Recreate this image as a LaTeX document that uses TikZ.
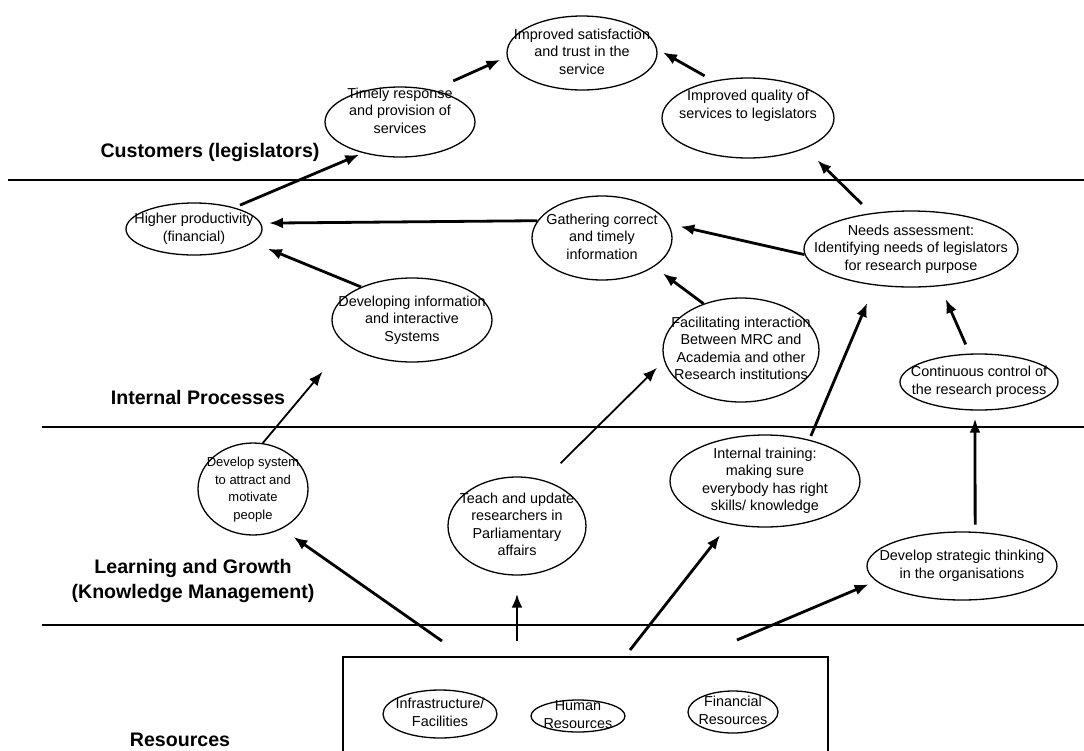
\documentclass[tikz,border=0pt]{standalone}
\usepackage{fontspec}
\setmainfont{Liberation Sans}
\usepackage{tikz}
\usetikzlibrary{shapes.geometric, arrows.meta}

\newcommand{\elltext}[2][-1.75pt]{\makebox[0pt]{\raisebox{#1}[0pt][0pt]{\begin{tabular}{@{}c@{}}#2\end{tabular}}}}

\begin{document}
\begin{tikzpicture}[
    x=0.5pt, y=-0.5pt,
    font=\fontsize{7.2}{8.75}\selectfont,
    goal/.style={ellipse, draw=black, line width=0.65pt, inner sep=0pt},
    lane/.style={font=\fontsize{9.8}{12.5}\selectfont\bfseries, align=center},
    divider/.style={line width=0.75pt},
    arrow/.style={-{Latex[length=7pt, width=5.5pt]}, line width=1.4pt},
    thinarrow/.style={arrow, line width=0.9pt}
]
\fill[white] (0,0) rectangle (1084,751);
\useasboundingbox (0,0) rectangle (1084,751);

\draw[divider] (8,180) -- (1084,180);
\draw[divider] (42,427) -- (1084,427);
\draw[divider] (42,625) -- (1084,625);

\node[lane] (cust) at (210,152) {Customers (legislators)};
\node[lane] (intproc) at (198,397) {Internal Processes};
\node[lane] (learn) at (193,581) {Learning and Growth\\(Knowledge Management)};
\node[lane] (resources) at (180,740) {Resources};

\node[goal, minimum width=75pt, minimum height=37pt] (sat) at (582,53) {\elltext{Improved satisfaction\\and trust in the\\service}};
\node[goal, minimum width=75pt, minimum height=35pt] (timely) at (400,122) {\elltext[3.2pt]{Timely response\\and provision of\\services}};
\node[goal, minimum width=86pt, minimum height=40pt] (quality) at (748,118) {\elltext[4.2pt]{Improved quality of\\services to legislators}};
\node[goal, minimum width=68pt, minimum height=26pt] (higher) at (194,229) {\elltext{Higher productivity\\(financial)}};
\node[goal, minimum width=70pt, minimum height=42pt] (gather) at (602,238) {\elltext{Gathering correct\\and timely\\information}};
\node[goal, minimum width=107pt, minimum height=38pt] (needs) at (911,249) {\elltext{Needs assessment:\\Identifying needs of legislators\\for research purpose}};
\node[goal, minimum width=80pt, minimum height=42pt] (develop) at (412,320) {\elltext{Developing information\\and interactive\\Systems}};
\node[goal, minimum width=78pt, minimum height=52pt] (facil) at (741,350) {\elltext{Facilitating interaction\\Between MRC and\\Academia and other\\Research institutions}};
\node[goal, minimum width=79pt, minimum height=28pt] (contin) at (979,382) {\elltext{Continuous control of\\the research process}};
\node[goal, minimum width=55pt, minimum height=46pt, font=\fontsize{6.5}{8.75}\selectfont] (system) at (253,489) {\elltext{Develop system\\to attract and\\motivate\\people}};
\node[goal, minimum width=69pt, minimum height=49pt] (teach) at (517,526) {\elltext{Teach and update\\researchers in\\Parliamentary\\affairs}};
\node[goal, minimum width=95pt, minimum height=46pt] (training) at (765,481) {\elltext{Internal training:\\making sure\\everybody has right\\skills/ knowledge}};
\node[goal, minimum width=95pt, minimum height=34pt] (strategic) at (962,566) {\elltext{Develop strategic thinking\\in the organisations}};

\node[draw, line width=0.55pt, minimum width=242.5pt, minimum height=53pt, inner sep=0pt] (res) at (585.5,710) {};
\node[goal, minimum width=57pt, minimum height=24pt] (infra) at (440,714) {\elltext{Infrastructure/\\Facilities}};
\node[goal, minimum width=47pt, minimum height=16pt] (human) at (578,716) {\elltext{Human\\Resources}};
\node[goal, minimum width=45pt, minimum height=21pt] (finance) at (733,712) {\elltext{Financial\\Resources}};

\coordinate (r1) at (442,641);
\coordinate (r2) at (517,641);
\coordinate (r3) at (630,650);
\coordinate (r4) at (737,640);

\draw[arrow, shorten <=11pt, shorten >=3.5pt] (timely.44) -- (sat.183);
\draw[arrow, shorten <=5pt, shorten >=3.3pt] (quality.133) -- (sat.3.5);
\draw[arrow, shorten <=3pt, shorten >=2pt] (higher.28) -- (timely.220);
\draw[arrow, shorten <=6.5pt, shorten >=8.5pt] (needs.138) -- (quality.-28);
\draw[arrow, shorten >=4pt] (gather.165) -- (higher.5);
\draw[arrow, shorten >=6pt] (needs.183) -- (gather.12);
\draw[arrow, shorten >=8pt] (develop.147) -- (higher.-13);
\draw[arrow, shorten >=5.5pt] (facil.129) -- (gather.-29);
\draw[arrow, shorten <=5pt, shorten >=7pt] (contin.108) -- (needs.-52);
\draw[thinarrow, shorten >=18pt] (system.78) -- (develop.200);
\draw[thinarrow, shorten <=12pt, shorten >=5pt] (teach.60) -- (facil.188);
\draw[arrow, shorten <=2pt, shorten >=9.5pt] (training.43) -- (needs.225);
\draw[arrow, shorten <=3.5pt, shorten >=4pt] (strategic.69) -- (contin.262);
\draw[arrow, shorten >=7pt] (r1) -- (system.-54);
\draw[arrow, shorten >=9pt] (r2) -- (teach.south);
\draw[arrow, shorten >=7pt] (r3) -- (training.230);
\draw[arrow, shorten >=4pt] (r4) -- (strategic.190);
\end{tikzpicture}
\end{document}
